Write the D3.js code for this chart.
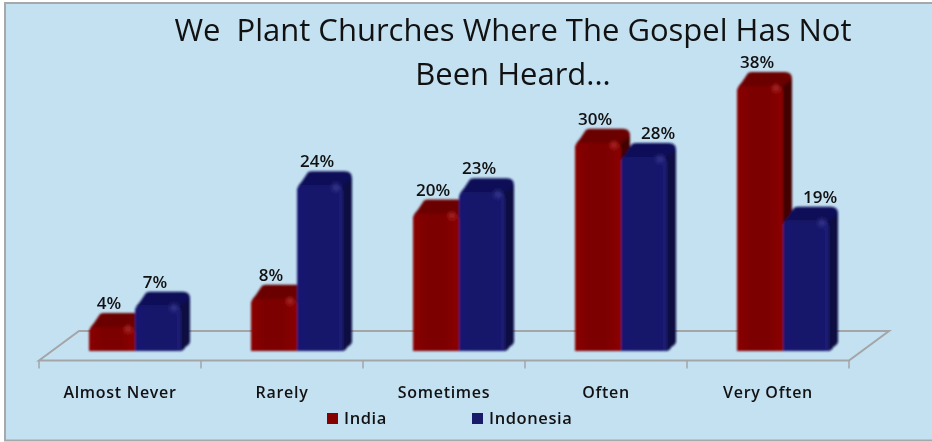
<!DOCTYPE html>
<html><head><meta charset="utf-8">
<script src="https://cdn.jsdelivr.net/npm/d3@7"></script>
<style>html,body{margin:0;padding:0;background:#fff}svg{display:block}text{font-family:"Open Sans","Noto Sans",sans-serif;fill:#111}</style>
</head><body><svg id="c" width="932" height="442"></svg>
<script>
const categories=["Almost Never","Rarely","Sometimes","Often","Very Often"];
const seriesNames=["India","Indonesia"];
const india=[4,8,20,30,38];
const indonesia=[7,24,23,28,19];
const titleLines=["We  Plant Churches Where The Gospel Has Not","Been Heard..."];
const svg=d3.select("#c");
const defs=svg.append("defs");
const palettes={India:{front:["#8a0505","#7c0000","#7c0000","#8c0606"],top:"#6a0000",side:"#420000",hi:"#b83030",sw:"#860000"},
Indonesia:{front:["#1a1a72","#16166a","#16166a","#1b1b70"],top:"#111158",side:"#0c0c42",hi:"#42429e",sw:"#1a1a6a"}};
seriesNames.forEach(n=>{const g=defs.append("linearGradient").attr("id","g"+n);
palettes[n].front.forEach((c,i)=>g.append("stop").attr("offset",i/3).attr("stop-color",c));});
defs.append("filter").attr("id","soft").attr("x","-5%").attr("y","-5%").attr("width","110%").attr("height","110%")
 .append("feGaussianBlur").attr("stdDeviation",1);
defs.append("filter").attr("id","spot").attr("x","-200%").attr("y","-200%").attr("width","500%").attr("height","500%")
 .append("feGaussianBlur").attr("stdDeviation",2);
svg.append("rect").attr("x",5).attr("y",3).attr("width",935).attr("height",437.5).attr("fill","#c4e1f2").attr("stroke","#a6a8aa").attr("stroke-width",2);
const x=d3.scaleBand().domain(categories).range([39,849]);
const inner=d3.scaleBand().domain(seriesNames).range([50,142]);
const y=d3.scaleLinear().domain([0,40]).range([354.4,70.8]);
const dx=9,dy=13,base=351,floorY=360.5,floorBack=331,fdx=40;
const [x0,x1]=x.range();
const floor=svg.append("g").attr("fill","none").attr("stroke","#a3a5a6").attr("stroke-width",2);
floor.append("path").attr("d",`M${x0},${floorY}L${x0+fdx},${floorBack}L${x1+fdx},${floorBack}L${x1},${floorY}Z`);
const ticks=x.domain().map(d=>x(d)).concat(x1);
floor.selectAll("line").data(ticks).join("line").attr("x1",d=>d).attr("x2",d=>d).attr("y1",floorY).attr("y2",floorY+8).attr("stroke-width",1.5);
const rows=seriesNames.map((n,k)=>({n,vals:k?indonesia:india}));
function bar(g,n,bx,w,top){const p=palettes[n],r=6,R=bx+w,T=top-dy;
 g.append("path").attr("d",`M${bx},${top+5}Q${bx+1},${top+1} ${bx+5},${top-3}L${bx+11},${T+1}Q${bx+13},${T} ${bx+15},${T}L${R+dx-7},${T}Q${R+dx},${T} ${R+dx},${T+7}L${R+dx},${base-9}Q${R+dx-1},${base-6} ${R+dx-5},${base-4}Q${R+3},${base} ${R-4},${base}L${bx},${base}Z`).attr("fill",p.top);
 g.append("path").attr("d",`M${R-2},${top+3}L${R+dx-1},${T+8}Q${R+dx},${T+8} ${R+dx},${T+10}L${R+dx},${base-9}Q${R+dx-1},${base-6} ${R+dx-5},${base-4}Q${R+3},${base} ${R-2},${base}Z`).attr("fill",p.side);
 g.append("path").attr("d",`M${bx},${top+r+1}Q${bx},${top+1} ${bx+r},${top+1}L${R-r},${top+1}Q${R},${top+1} ${R},${top+r+1}L${R},${base-1}Q${R-1},${base} ${R-3},${base}L${bx+3},${base}Q${bx},${base} ${bx},${base-1}Z`).attr("fill",`url(#g${n})`);
 g.append("circle").attr("cx",R-7).attr("cy",top+3).attr("r",3).attr("fill",p.hi).attr("filter","url(#spot)");
}
const bars=svg.append("g").attr("filter","url(#soft)");
categories.forEach((c,i)=>rows.forEach(r=>{
 const bx=x(c)+inner(r.n);
 bar(bars,r.n,bx,inner.bandwidth(),y(r.vals[i]));
}));
// A label whose bar is shorter than its left neighbour moves right to clear that neighbour.
const labels=svg.append("g").attr("font-size",17).attr("font-weight",600).attr("text-anchor","middle");
categories.forEach((c,i)=>rows.forEach(r=>{
 const clear=r.n==="Indonesia"&&indonesia[i]<india[i]?17:0;
 labels.append("text").attr("x",x(c)+inner(r.n)+inner.bandwidth()/2-3+clear).attr("y",y(r.vals[i])-17).text(r.vals[i]+"%");
}));
svg.append("g").selectAll("text").data(categories).join("text").attr("x",d=>x(d)+x.bandwidth()/2).attr("y",398).attr("text-anchor","middle").attr("font-size",16).attr("letter-spacing",0.7).attr("font-weight",600).text(d=>d);
const lx=d3.scaleOrdinal().domain(seriesNames).range([327,472]);
const lg=svg.append("g");
lg.selectAll("rect").data(seriesNames).join("rect").attr("x",d=>lx(d)).attr("y",413).attr("width",11).attr("height",11).attr("fill",d=>palettes[d].sw);
lg.selectAll("text").data(seriesNames).join("text").attr("x",d=>lx(d)+17).attr("y",424).attr("font-size",16.5).attr("letter-spacing",0.6).attr("font-weight",600).text(d=>d);
svg.append("g").selectAll("text").data(titleLines).join("text").attr("x",513).attr("y",(d,i)=>41+i*44).attr("text-anchor","middle").attr("font-size",31).attr("fill","#222").style("white-space","pre").text(d=>d);
</script></body></html>
